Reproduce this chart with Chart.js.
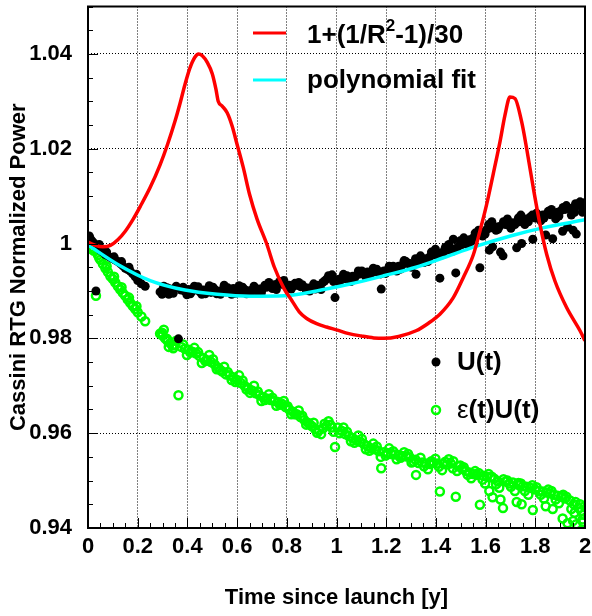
<!DOCTYPE html>
<html>
<head>
<meta charset="utf-8">
<script src="https://cdn.jsdelivr.net/npm/chart.js@4"></script>
<style>
  body { margin: 0; background: #fff; }
</style>
</head>
<body>
<canvas id="rtgChart" width="592" height="616"></canvas>
<script>
// time since launch [y] for the measured points
const times = [
  0.000, 0.008, 0.015, 0.022, 0.032, 0.040, 0.050, 0.060, 0.070, 0.080,
  0.090, 0.100, 0.110, 0.120, 0.130, 0.140, 0.150, 0.160, 0.170, 0.180,
  0.190, 0.200, 0.215, 0.230, 0.290, 0.300, 0.310, 0.320, 0.330, 0.340,
  0.350, 0.364, 0.375, 0.390, 0.405, 0.420, 0.435, 0.450, 0.465, 0.480,
  0.495, 0.510, 0.525, 0.540, 0.555, 0.570, 0.585, 0.600, 0.615, 0.630,
  0.645, 0.660, 0.675, 0.690, 0.705, 0.720, 0.735, 0.750, 0.765, 0.780,
  0.795, 0.810, 0.825, 0.840, 0.855, 0.870, 0.885, 0.900, 0.915, 0.930,
  0.945, 0.960, 0.975, 0.994, 1.005, 1.020, 1.035, 1.050, 1.065, 1.080,
  1.095, 1.110, 1.125, 1.140, 1.155, 1.170, 1.180, 1.190, 1.205, 1.220,
  1.235, 1.250, 1.265, 1.280, 1.295, 1.310, 1.320, 1.330, 1.345, 1.360,
  1.375, 1.390, 1.405, 1.416, 1.430, 1.445, 1.460, 1.470, 1.480, 1.490,
  1.505, 1.520, 1.535, 1.550, 1.565, 1.577, 1.590, 1.605, 1.615, 1.620,
  1.635, 1.650, 1.660, 1.670, 1.680, 1.695, 1.710, 1.725, 1.735, 1.750,
  1.765, 1.780, 1.790, 1.800, 1.815, 1.830, 1.845, 1.860, 1.870, 1.875,
  1.890, 1.905, 1.910, 1.920, 1.930, 1.940, 1.955, 1.965, 1.975, 1.985,
  1.995,
  0.298, 0.318, 0.343, 0.383, 0.412, 0.443, 0.472, 0.503, 0.533, 0.562,
  0.593, 0.622, 0.652, 0.683, 0.712, 0.742, 0.772, 0.803, 0.833, 0.862,
  0.892, 0.922, 0.952, 0.982, 1.012, 1.042, 1.072, 1.102, 1.132, 1.162,
  1.198, 1.228, 1.258, 1.288, 1.318, 1.352, 1.382, 1.412, 1.438, 1.468,
  1.498, 1.528, 1.558, 1.588, 1.612, 1.642, 1.672, 1.702, 1.732, 1.758,
  1.788, 1.822, 1.852, 1.882, 1.912, 1.945, 1.962, 1.990, 1.998, 1.628,
  1.745, 1.842, 1.952,
  0.305, 0.325, 0.355, 0.398, 0.428, 0.458, 0.488, 0.518, 0.548, 0.578,
  0.608, 0.638, 0.668, 0.698, 0.728, 0.758, 0.788, 0.818, 0.848, 0.878,
  0.908, 0.938, 0.968, 0.988, 1.028, 1.058, 1.088, 1.118, 1.148, 1.178,
  1.212, 1.242, 1.272, 1.302, 1.338, 1.368, 1.398, 1.425, 1.452, 1.485,
  1.512, 1.542, 1.572, 1.598, 1.625, 1.655, 1.688, 1.718, 1.742, 1.772,
  1.805, 1.835, 1.865, 1.895, 1.925, 1.958, 1.980, 1.992, 0.005, 0.045,
  0.075, 0.105, 0.135, 0.165, 0.195
];

// U(t)
const uValues = [
  1.0010, 1.0012, 1.0006, 1.0002, 0.9900, 0.9993, 0.9986, 0.9982, 0.9977, 0.9974,
  0.9971, 0.9968, 0.9965, 0.9962, 0.9958, 0.9953, 0.9948, 0.9945, 0.9942, 0.9936,
  0.9930, 0.9922, 0.9915, 0.9910, 0.9898, 0.9902, 0.9897, 0.9900, 0.9904, 0.9901,
  0.9905, 0.9799, 0.9902, 0.9899, 0.9903, 0.9900, 0.9904, 0.9898, 0.9902, 0.9900,
  0.9897, 0.9903, 0.9899, 0.9902, 0.9898, 0.9901, 0.9905, 0.9902, 0.9899, 0.9903,
  0.9900, 0.9902, 0.9901, 0.9904, 0.9906, 0.9908, 0.9910, 0.9913, 0.9916, 0.9914,
  0.9911, 0.9912, 0.9910, 0.9912, 0.9909, 0.9908, 0.9906, 0.9905, 0.9904, 0.9910,
  0.9918, 0.9925, 0.9928, 0.9886, 0.9924, 0.9927, 0.9926, 0.9929, 0.9931, 0.9933,
  0.9936, 0.9938, 0.9940, 0.9937, 0.9941, 0.9939, 0.9904, 0.9942, 0.9944, 0.9946,
  0.9948, 0.9952, 0.9955, 0.9962, 0.9958, 0.9956, 0.9935, 0.9963, 0.9966, 0.9968,
  0.9972, 0.9976, 0.9980, 0.9927, 0.9983, 0.9986, 0.9990, 1.0009, 0.9938, 0.9994,
  0.9998, 1.0002, 1.0008, 1.0012, 1.0018, 0.9949, 1.0024, 1.0030, 0.9986, 1.0033,
  1.0036, 1.0030, 0.9982, 0.9974, 1.0040, 1.0038, 1.0044, 0.9991, 1.0046, 1.0050,
  1.0052, 1.0056, 1.0009, 1.0054, 1.0058, 1.0060, 1.0062, 1.0061, 1.0010, 1.0064,
  1.0066, 1.0070, 1.0026, 1.0072, 1.0035, 1.0074, 1.0076, 1.0020, 1.0080, 1.0082,
  1.0078,
  0.9893, 0.9907, 0.9895, 0.9908, 0.9894, 0.9909, 0.9894, 0.9908, 0.9893, 0.9907,
  0.9895, 0.9908, 0.9895, 0.9898, 0.9912, 0.9905, 0.9920, 0.9906, 0.9916, 0.9913,
  0.9900, 0.9912, 0.9921, 0.9934, 0.9918, 0.9932, 0.9926, 0.9942, 0.9934, 0.9946,
  0.9937, 0.9952, 0.9946, 0.9958, 0.9968, 0.9960, 0.9982, 0.9974, 0.9992, 0.9984,
  1.0006, 0.9998, 1.0022, 1.0016, 1.0040, 1.0028, 1.0046, 1.0032, 1.0054, 1.0040,
  1.0060, 1.0048, 1.0068, 1.0052, 1.0076, 1.0060, 1.0084, 1.0066, 1.0086, 0.9993,
  1.0000, 1.0018, 1.0028,
  0.9910, 0.9893, 0.9910, 0.9892, 0.9910, 0.9893, 0.9911, 0.9894, 0.9912, 0.9893,
  0.9911, 0.9894, 0.9910, 0.9896, 0.9918, 0.9903, 0.9922, 0.9904, 0.9918, 0.9902,
  0.9915, 0.9903, 0.9932, 0.9920, 0.9935, 0.9920, 0.9942, 0.9930, 0.9948, 0.9936,
  0.9952, 0.9942, 0.9964, 0.9950, 0.9974, 0.9962, 0.9988, 0.9976, 0.9998, 0.9990,
  1.0012, 1.0004, 1.0028, 1.0020, 1.0046, 1.0036, 1.0052, 1.0040, 1.0060, 1.0046,
  1.0064, 1.0054, 1.0072, 1.0058, 1.0080, 1.0066, 1.0088, 1.0070, 1.0016, 0.9998,
  0.9982, 0.9972, 0.9962, 0.9950, 0.9935
];

// ε(t)U(t)
const euValues = [
  0.9996, 0.9992, 0.9989, 0.9985, 0.9890, 0.9976, 0.9966, 0.9957, 0.9948, 0.9940,
  0.9931, 0.9925, 0.9918, 0.9910, 0.9903, 0.9896, 0.9890, 0.9882, 0.9875, 0.9868,
  0.9862, 0.9855, 0.9846, 0.9836, 0.9810, 0.9806, 0.9800, 0.9795, 0.9790, 0.9785,
  0.9786, 0.9680, 0.9782, 0.9778, 0.9776, 0.9772, 0.9768, 0.9762, 0.9758, 0.9754,
  0.9750, 0.9745, 0.9738, 0.9730, 0.9724, 0.9722, 0.9718, 0.9712, 0.9706, 0.9700,
  0.9695, 0.9690, 0.9684, 0.9680, 0.9676, 0.9673, 0.9670, 0.9668, 0.9666, 0.9662,
  0.9655, 0.9650, 0.9645, 0.9640, 0.9634, 0.9628, 0.9622, 0.9615, 0.9608, 0.9606,
  0.9610, 0.9616, 0.9618, 0.9571, 0.9612, 0.9605, 0.9598, 0.9594, 0.9590, 0.9585,
  0.9582, 0.9577, 0.9573, 0.9568, 0.9566, 0.9562, 0.9526, 0.9560, 0.9558, 0.9556,
  0.9555, 0.9554, 0.9552, 0.9551, 0.9549, 0.9540, 0.9512, 0.9537, 0.9538, 0.9536,
  0.9535, 0.9537, 0.9536, 0.9477, 0.9535, 0.9534, 0.9536, 0.9541, 0.9466, 0.9530,
  0.9525, 0.9520, 0.9517, 0.9514, 0.9512, 0.9449, 0.9510, 0.9508, 0.9478, 0.9507,
  0.9504, 0.9498, 0.9460, 0.9442, 0.9498, 0.9494, 0.9496, 0.9455, 0.9490, 0.9488,
  0.9487, 0.9485, 0.9438, 0.9481, 0.9478, 0.9477, 0.9475, 0.9473, 0.9440, 0.9470,
  0.9468, 0.9466, 0.9420, 0.9462, 0.9410, 0.9458, 0.9450, 0.9408, 0.9442, 0.9436,
  0.9428,
  0.9812, 0.9799, 0.9779, 0.9787, 0.9770, 0.9771, 0.9752, 0.9756, 0.9733, 0.9729,
  0.9708, 0.9711, 0.9685, 0.9688, 0.9670, 0.9675, 0.9660, 0.9657, 0.9640, 0.9637,
  0.9619, 0.9601, 0.9620, 0.9612, 0.9600, 0.9603, 0.9580, 0.9588, 0.9563, 0.9572,
  0.9553, 0.9562, 0.9548, 0.9556, 0.9544, 0.9530, 0.9541, 0.9529, 0.9540, 0.9526,
  0.9532, 0.9512, 0.9520, 0.9502, 0.9514, 0.9492, 0.9503, 0.9487, 0.9495, 0.9478,
  0.9490, 0.9470, 0.9481, 0.9460, 0.9470, 0.9440, 0.9455, 0.9418, 0.9446, 0.9465,
  0.9450, 0.9446, 0.9415,
  0.9818, 0.9782, 0.9795, 0.9765, 0.9780, 0.9748, 0.9765, 0.9735, 0.9740, 0.9712,
  0.9722, 0.9692, 0.9700, 0.9668, 0.9682, 0.9658, 0.9668, 0.9640, 0.9648, 0.9618,
  0.9622, 0.9598, 0.9625, 0.9603, 0.9612, 0.9583, 0.9595, 0.9566, 0.9578, 0.9550,
  0.9568, 0.9545, 0.9560, 0.9538, 0.9548, 0.9524, 0.9546, 0.9522, 0.9545, 0.9520,
  0.9528, 0.9505, 0.9516, 0.9494, 0.9508, 0.9485, 0.9500, 0.9478, 0.9494, 0.9470,
  0.9486, 0.9462, 0.9478, 0.9452, 0.9466, 0.9432, 0.9450, 0.9412, 0.9999, 0.9970,
  0.9952, 0.9930, 0.9908, 0.9886, 0.9868
];

// 1+(1/R^2-1)/30 curve
const sunTimes = [
  0, 0.03, 0.06, 0.09, 0.12, 0.15, 0.18, 0.21, 0.25, 0.29,
  0.32, 0.35, 0.37, 0.39, 0.41, 0.43, 0.445, 0.46, 0.48, 0.50,
  0.515, 0.524, 0.54, 0.56, 0.58, 0.60, 0.625, 0.65, 0.68, 0.72,
  0.75, 0.79, 0.82, 0.85, 0.88, 0.92, 0.96, 1.00, 1.05, 1.10,
  1.15, 1.19, 1.25, 1.32, 1.37, 1.416, 1.47, 1.51, 1.551, 1.577,
  1.604, 1.63, 1.658, 1.678, 1.698, 1.718, 1.745, 1.765, 1.792, 1.819,
  1.846, 1.879, 1.926, 1.98, 2.0
];
const sunValues = [
  1.0003, 0.9996, 0.9993, 0.9996, 1.0008, 1.0026, 1.0050, 1.0078, 1.0118, 1.0166,
  1.0209, 1.0258, 1.0295, 1.0335, 1.0370, 1.0393, 1.0400, 1.0396, 1.0382, 1.0358,
  1.0325, 1.0300, 1.0290, 1.0276, 1.0248, 1.0209, 1.0160, 1.0104, 1.0052, 0.9998,
  0.9950, 0.9904, 0.9880, 0.9856, 0.9842, 0.9831, 0.9824, 0.9818, 0.9810, 0.9805,
  0.9801, 0.9800, 0.9804, 0.9816, 0.9832, 0.9851, 0.9886, 0.9928, 0.9977, 1.0026,
  1.0082, 1.0145, 1.0215, 1.0271, 1.0309, 1.0306, 1.0257, 1.0201, 1.0117, 1.0040,
  0.9977, 0.9921, 0.9865, 0.9816, 0.9795
];

// polynomial fit
const fitTimes = [0, 0.12, 0.25, 0.39, 0.52, 0.65, 0.79, 0.92, 1.05, 1.19, 1.32, 1.43, 1.56, 1.70, 1.83, 2.0];
const fitValues = [0.9997, 0.9956, 0.9922, 0.9902, 0.9893, 0.9889, 0.9890, 0.9900, 0.9914, 0.9932, 0.9950, 0.9970, 0.9994, 1.0016, 1.0033, 1.0050];

const xTickValues = [0, 0.2, 0.4, 0.6, 0.8, 1, 1.2, 1.4, 1.6, 1.8, 2];
const yTickValues = [0.94, 0.96, 0.98, 1, 1.02, 1.04];

const FONT = '"Liberation Sans", Arial, Helvetica, sans-serif';
const tickFont = { family: FONT, size: 22, weight: 'bold' };
const titleFont = { family: FONT, size: 22, weight: 'bold' };
const fmt = v => String(+(+v).toFixed(2));

function pts(xs, ys) {
  return xs.map((x, i) => ({ x: x, y: ys[i] }));
}

// frame, inward ticks and the two legends
const decor = {
  id: 'decor',
  afterDraw(chart) {
    const { ctx, chartArea: a, scales: { x, y } } = chart;
    ctx.save();
    ctx.strokeStyle = '#000';
    ctx.lineWidth = 1;
    ctx.beginPath();
    for (let i = 0; i <= 40; i++) {
      const px = Math.round(x.getPixelForValue(i * 0.05)) + 0.5;
      const len = i % 4 === 0 ? 10 : 5;
      ctx.moveTo(px, a.bottom);
      ctx.lineTo(px, a.bottom - len);
    }
    for (let i = 0; i <= 22; i++) {
      const py = Math.round(y.getPixelForValue(0.94 + i * 0.005)) + 0.5;
      const len = i % 4 === 0 ? 10 : 5;
      ctx.moveTo(a.left, py);
      ctx.lineTo(a.left + len, py);
    }
    ctx.stroke();
    ctx.lineWidth = 2;
    ctx.strokeRect(a.left, a.top, a.right - a.left, a.bottom - a.top);

    const ds = chart.data.datasets;
    ctx.fillStyle = '#000';
    ctx.textBaseline = 'alphabetic';
    ctx.textAlign = 'left';
    const big = 'bold 26px ' + FONT;

    // line legend
    ctx.lineWidth = 3;
    ctx.strokeStyle = ds[0].borderColor;
    ctx.beginPath(); ctx.moveTo(253, 33); ctx.lineTo(286, 33); ctx.stroke();
    ctx.strokeStyle = ds[1].borderColor;
    ctx.beginPath(); ctx.moveTo(253, 80); ctx.lineTo(286, 80); ctx.stroke();

    let tx = 307;
    ctx.font = big;
    ctx.fillText('1+(1/R', tx, 43);
    tx += ctx.measureText('1+(1/R').width;
    ctx.font = 'bold 17px ' + FONT;
    ctx.fillText('2', tx, 31);
    tx += ctx.measureText('2').width;
    ctx.font = big;
    ctx.fillText('-1)/30', tx, 43);
    ctx.fillText('polynomial fit', 307, 88);

    // marker legend
    ctx.fillStyle = ds[2].backgroundColor;
    ctx.beginPath(); ctx.arc(436, 362, 4.5, 0, Math.PI * 2); ctx.fill();
    ctx.strokeStyle = ds[3].borderColor;
    ctx.lineWidth = 2.5;
    ctx.beginPath(); ctx.arc(436, 410, 4, 0, Math.PI * 2); ctx.stroke();
    ctx.fillStyle = '#000';
    ctx.font = big;
    ctx.fillText('U(t)', 457, 370);
    ctx.font = '26px ' + FONT;
    ctx.fillText('ε', 457, 418);
    const ew = ctx.measureText('ε').width;
    ctx.font = big;
    ctx.fillText('(t)U(t)', 457 + ew, 418);
    ctx.restore();
  }
};

new Chart(document.getElementById('rtgChart').getContext('2d'), {
  type: 'scatter',
  data: {
    datasets: [
      {
        label: '1+(1/R^2-1)/30',
        data: pts(sunTimes, sunValues),
        showLine: true,
        borderColor: '#ff0000',
        borderWidth: 3.5,
        pointRadius: 0,
        cubicInterpolationMode: 'monotone'
      },
      {
        label: 'polynomial fit',
        data: pts(fitTimes, fitValues),
        showLine: true,
        borderColor: '#00ffff',
        borderWidth: 3.5,
        pointRadius: 0,
        cubicInterpolationMode: 'monotone'
      },
      {
        label: 'U(t)',
        data: pts(times, uValues),
        backgroundColor: '#000000',
        borderWidth: 0,
        pointRadius: 4.5
      },
      {
        label: 'ε(t)U(t)',
        data: pts(times, euValues),
        backgroundColor: 'rgba(0,0,0,0)',
        borderColor: '#00ff00',
        borderWidth: 2.5,
        pointRadius: 4
      }
    ]
  },
  options: {
    responsive: false,
    animation: false,
    devicePixelRatio: 1,
    layout: { padding: { left: 0, right: 7, top: 4, bottom: 0 } },
    plugins: { legend: { display: false }, tooltip: { enabled: false } },
    scales: {
      x: {
        type: 'linear',
        min: 0,
        max: 2,
        afterBuildTicks: s => { s.ticks = xTickValues.map(v => ({ value: v })); },
        afterFit: s => { s.height = 88; s.paddingLeft = 0; s.paddingRight = 0; },
        ticks: { font: tickFont, color: '#000', padding: 6, maxRotation: 0, autoSkip: false, callback: v => fmt(v) },
        grid: { color: '#000', lineWidth: 1, drawTicks: false },
        border: { display: false, dash: [1, 2] },
        title: { display: true, text: 'Time since launch [y]', font: titleFont, color: '#000', padding: { top: 0, bottom: 5 } }
      },
      y: {
        type: 'linear',
        min: 0.94,
        max: 1.05,
        afterBuildTicks: s => { s.ticks = yTickValues.map(v => ({ value: v })); },
        afterFit: s => { s.width = 88; s.paddingTop = 0; s.paddingBottom = 0; },
        ticks: { font: tickFont, color: '#000', padding: 16, callback: v => fmt(v) },
        grid: { color: '#000', lineWidth: 1, drawTicks: false },
        border: { display: false, dash: [1, 2] },
        title: { display: true, text: 'Cassini RTG Normalized Power', font: titleFont, color: '#000', padding: { top: 6, bottom: 0 } }
      }
    }
  },
  plugins: [decor]
});
</script>
</body>
</html>
